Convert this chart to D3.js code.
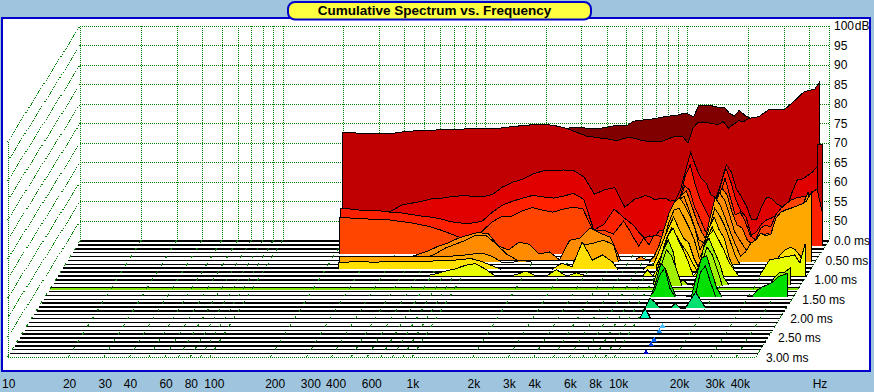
<!DOCTYPE html>
<html><head><meta charset="utf-8"><script src="https://cdn.jsdelivr.net/npm/d3@7"></script>
<style>html,body{margin:0;padding:0;background:#9FC5DE;overflow:hidden}text{font-family:"Liberation Sans",Arial,sans-serif;fill:#000}</style></head><body>
<svg id="c" width="874" height="392"></svg>
<script>
const titleText = "Cumulative Spectrum vs. Frequency";
const dbTicks = [50,55,60,65,70,75,80,85,90,95,100];
const msTicks = [0,0.5,1,1.5,2,2.5,3];
const msLabels = ["0.0 ms","0.50 ms","1.00 ms","1.50 ms","2.00 ms","2.50 ms","3.00 ms"];
const hzTicks = [10,20,30,40,60,80,100,200,300,400,600,1000,2000,3000,4000,6000,8000,10000,20000,30000,40000];
const hzLabels = ["10","20","30","40","60","80","100","200","300","400","600","1k","2k","3k","4k","6k","8k","10k","20k","30k","40k"];
const hzGrid = [10,20,30,40,50,60,70,80,90,100,200,300,400,500,600,700,800,900,1000,2000,3000,4000,5000,6000,7000,8000,9000,10000,20000,30000,40000,50000];
const floorTimes = [0,.1,.2,.3,.4,.5,.6,.7,.8,.9,1,1.1,1.2,1.3,1.4,1.5,1.6,1.7,1.8,1.9,2,2.1,2.2,2.3,2.4,2.5,2.6,2.7,2.8,2.9];
const limeTime = 1.25;
const freqs = [200,224,252,283,317,356,400,449,504,566,635,713,800,898,1008,1131,1270,1425,1600,1796,2016,2263,2540,2851,3200,3592,4032,4525,5080,5382,5702,6041,6400,6781,7184,7611,8063,8543,9051,9589,10159,10763,11404,12082,12800,13561,14368,15222,16127,17086,18102,19178,20319,21527,22807,24163,25600,27122,28735,30444,32254,34172,36204,38356,40637,43053,45614,48327];

const dbA = [73,73.5,73.7,74,73.7,73.5,74,74.5,74.5,75.4,75.7,75.8,75.9,76.1,76.3,76.6,76.8,76.9,77.1,77.5,77.3,76.6,79.6,79.6,79.6,79.3,79,79.1,77.6,76.8,78.3,77.1,76.3,76,75.5];
const dbB = [72.8,72.8,72.7,72.7,72.7,72.7,73.1,73.3,73.4,73.5,73.7,73.7,73.8,73.8,73.8,73.8,74.2,74.5,74.7,75,75,74.6,74,73,72,71.6,71.3,70.8,71.6,71.6,71.2,70.8,70.7,70.5,70.5,70.7,71.2,71.7,72,71.8,70.2,74,75.5,75.6,75.4,75.1,75,75.7,74,75,75.9,75.7,76.5,76.8,76.9,77.9,78.8,78.9,78.9,78.7,79.9,81,82.3,83.4,83.7,84,85.9];
const dbB2 = [70.6,70.6];
const dbC = [52.7,52.7,52.8,53,53.2,53.7,55.2,55.7,56.2,56.8,57,57.4,57.6,57.5,57.3,58,59.9,61.1,61.9,63.2,64,64.1,64.2,64,62.4,58,59.1,59.7,54.7,55.7,56.8,57.1,57.7,57.3,56.5,57,57,56.2,56.5,59.1,64.2,68.8,65,62.1,60.9,57.8,57,61.1,65.5,63.7,59.3,57.3,54.9,51.4,51.6,54.9,57.3,56.8,55.5,54.7,54.7,58.6,61.7,61.9,62.7,63.7,65.2];
const dbD = [54.6,54.4,54.1,53.9,53.9,53.6,53.4,53,52.6,52.3,51.8,51.1,50.8,50.8,51.3,53.6,55.4,56.4,57.2,57.9,57.5,57.2,57.7,58.4,56.9,49,50.5,54.4,52.1,51.1,50,48.2,47,47.5,47.2,49,48.8,50,52.1,57.2,62.8,65.7,60.5,56.7,54.1,51.6,55.9,60.5,64.9,61.3,56.7,53.9,52.3,47.7,48.5,50.5,51.6,52.1,52.9,53.6,54.6,56.2,56.9,57.2,57.5,58.7,59.5,53.6];
const dbE = [52.6,52.4,52.3,52.1,52,51.9,51.5,51.2,50.7,50.1,49.3,48.3,47.3,48,48.8,51.3,52.8,52.9,54.2,55.1,54.4,53.9,54.6,55.2,54.7,49.1,49.3,48.3,51.6,49.6,47.3,45.2,47.3,45.5,48,47.8,47.3,47.8,50.3,56,60.6,59.6,55.2,52.4,49.3,47.8,51.4,58.3,62.6,57.8,53.2,53.9,51.4,47.8,46.8,49.8,50.6,50.1,53.2,54.9,56,57,57.5,57.8,57.8,58];
const dbF = [43.4,44.3,45.2,46.4,47.3,48.5,49.3,50,49.6,46.5,45.5,47.5,47,44.5,45,42.4,48,48.5,51.1,49.8,48.8,42.4,42.4,42.4,42.4,43.9,42.4,42.4,44.2,46,48,51.1,55.2,59.6,60.6,57,53.2,50.1,48,52.6,58.3,61.4,59.6,55.2,51.9,51.1,48,47,47.3,49.1,49.8,48.8,51.9,55.5,56,56.2,56.7,57.3,60.3];
const dbF2 = [44.4,45.5,47,48,49,50.3,50.2,48,45.5,43.4,43.4,43.4,43.4,43.4,43.4,43.4,43.4,43.4,43.4,43.4,43.4,43.4,43.4,43.4,43.4,43.4,43.4,45.2,47,50.3,54.7,59.3,60.3,56.7,52.9,49,48.3,52.1,58,61.1,59.3,55.4,51.1,49,47,44.4];
const dbG = [46.7,46.6,46.6,46.6,46.6,46.6,46.6,46.7,46.7,46.7,46.7,46.7,46.9,47.2,47.5,46.7,44.7,44.7,45.7,44.7,44.7,44.7,44.7,44.7,49.6,50,50.8,49.6,44.7,44.7,44.7,44.7,44.7,44.7,44.7,46.7,49.6,53.9,58,60.6,61.6,59.8,57.2,53.9,48.3,50.8,56.5,61.6,59.8,56.5,52.9,49.6,46.7,47.8,50,50.8,52.6,51.9,52.4,56.5,58,58.5,59,59.5,60,60.8,63.1];
const dbG3 = [43.7,51,55.6,58.7,59.2,56.7,54.1,51,46.4,49,54.1,59.2,57.2,54.6,51,47.2,43.7];
const dbH = [45.6,45.6,45.7,45.6,45.6,45.8,45.8,45.8,45.8,45.8,46,46,46.2,46.5,45.8,44.8,43,43,43,43,43,43,45.3,44.4,50.7,46.1,47.4,45.6,43,43,43,43,43,43,44.8,44.8,47.9,51.2,54.3,57.1,54.3,51.7,50.5,46.6,44,49.9,54.3,57.1,53.8,51.7,46.6,43.5,43,43,43,43,43,43,43,45.6,47.4,48.7,49.4,48.7,47.1,43];
const dbH2 = [45.4,48.2,52.5,55.1,53.1,50.8,49,46.4,43.8,47.9,52.5,55.4,52,50,46.4,43.8];
const dbI = [44.1,44.1,44.1,44.8,45.5,46.1,47,47.5,46.1,44.1,44.1,44.6,45.6,44.2,44.1,45.9,44.1,45.1,44.1,44.1,44.1,44.1,44.1,44.1,44.1,44.1,44.1,44.1,45.9,44.1,46.4,50.5,54.6,56.6,53.5,51,47.9,44.1,45.9,51,54.6,56.1,53.5,51,47.9,45.9,44.1,44.1,44.1,44.1,44.1,46.4,48.4,48.7,48.9,49.2,49.4,49.7,47.6,52.5];
const dbJ = [43.7,48.3,52.9,55.5,52.4,44.5,45.2,43.7,43.7,47.8,53.7,56,52.9,49.9,45.8,43.7,43.7,43.7,43.7,43.7,43.7,43.7,43.7,43.7,46,47.3,47.3,48.3];
const dbJ2 = [44.7,49.8,53.7,52.1,48.6,44.2,44.2,44.2,46,50.6,54.4,52.4,48.6,44.2];
const dbK = [43.6,47.7,52.6,50.8,47,44,43.6,43.6,44.1,49.3,53.9,54.4,50.3,46.2,43.9,43.6,43.6,43.6,43.9,43.9,44.1,45.7,46.5,47,47.7,49,49.5,50];
const dbK2 = [44.1,46.1,50,51.8,46.6,44.1,44.1,44.1,44.1,44.6,50.7,52.3,48.2,44.1];
const dbL = [43.3,46.1,45.1,43.5,42.6,42.6,44.8,42.6,43.3,45.6,47.6,45.6,42.6];
const dbM = [45,47.5,45];
const blipFreqs = [13700,14050,14400];
const blipDb = [45,45.9,45];
const blipTimes = [2.25,2.38,2.6,2.72,2.93];
const blipColors = ["#40C0FF","#2090FF","#0060FF","#0040E0","#0000C0"];

const slices = [
 {c:"#800000",t:0,   base:0,   s:20,v:dbA},
 {c:"#C00000",t:.03, base:.03, s:0, v:dbB},
 {c:"#C00000",t:.12, base:.12, s:66,v:dbB2},
 {c:"#E00000",t:.12, base:.12, s:0, v:dbC},
 {c:"#FF2000",t:.14, base:.14, s:0, v:dbD},
 {c:"#FF4500",t:.17, base:.36, s:0, v:dbE},
 {c:"#FF8C00",t:.3,  base:.5,  s:7, v:dbF},
 {c:"#FF8C00",t:.4,  base:.5,  s:9, v:dbF2},
 {c:"#FFA800",t:.58, base:.57, s:1, v:dbG},
 {c:"#FFA800",t:.6,  base:.62, s:37,v:dbG3},
 {c:"#FFE000",t:.62, base:.75, s:1, v:dbH},
 {c:"#FFE000",t:.7,  base:.78, s:37,v:dbH2},
 {c:"#E8FF00",t:.85, base:.92, s:8, v:dbI},
 {c:"#A0F000",t:1.05,base:1.15,s:38,v:dbJ},
 {c:"#A0F000",t:1.12,base:1.17,s:39,v:dbJ2},
 {c:"#00E000",t:1.35,base:1.45,s:39,v:dbK},
 {c:"#00E000",t:1.4, base:1.45,s:39,v:dbK2},
 {c:"#00E070",t:1.6, base:1.75,s:39,v:dbL},
 {c:"#00FFC0",t:2,   base:2,   s:40,v:dbM}
];

const svg = d3.select("#c");
const xs = d3.scaleLog().domain([10,50000]).range([80.3,828.6]);
const ys = d3.scaleLinear().domain([45,100]).range([240.3,25.5]);
const sx = d3.scaleLinear().domain([0,3]).range([0,-72.7]);
const sy = d3.scaleLinear().domain([0,3]).range([0,116.4]);
const GREEN = "#008000", BLUE = "#0000C8";
const snap = v => Math.round(v)+.5;

svg.append("rect").attr("width",874).attr("height",392).attr("fill","#9FC5DE");
svg.append("rect").attr("x",2).attr("y",18).attr("width",868).attr("height",352.5).attr("fill","#fff").attr("stroke",BLUE).attr("stroke-width",2).attr("shape-rendering","crispEdges");

const grid = svg.append("g").attr("shape-rendering","crispEdges").attr("fill","none");
const dotted = "1 1";
grid.selectAll(".h").data(d3.range(50,101,5)).join("line").attr("x1",xs(10)).attr("x2",xs(50000)).attr("y1",d=>snap(ys(d))).attr("y2",d=>snap(ys(d))).attr("stroke",GREEN).attr("stroke-dasharray",dotted);
grid.selectAll(".v").data(hzGrid).join("line").attr("x1",d=>snap(xs(d))).attr("x2",d=>snap(xs(d))).attr("y1",ys(100)).attr("y2",ys(45)).attr("stroke",GREEN).attr("stroke-dasharray",dotted);
grid.selectAll(".w").data(d3.range(50,101,5)).join("line").attr("x1",xs(10)).attr("x2",xs(10)+sx(3)).attr("y1",d=>ys(d)).attr("y2",d=>ys(d)+sy(3)).attr("stroke",GREEN).attr("stroke-dasharray",dotted);
grid.append("line").attr("x1",snap(xs(10)+sx(3))).attr("x2",snap(xs(10)+sx(3))).attr("y1",ys(100)+sy(3)).attr("y2",ys(45)+sy(3)).attr("stroke",GREEN).attr("stroke-dasharray",dotted);
grid.append("line").attr("x1",xs(10)+sx(3)).attr("x2",xs(50000)+sx(3)).attr("y1",snap(ys(45)+sy(3))).attr("y2",snap(ys(45)+sy(3))).attr("stroke",GREEN).attr("stroke-dasharray",dotted);
grid.append("line").attr("x1",xs(50000)).attr("x2",xs(50000)+sx(3)).attr("y1",ys(45)).attr("y2",ys(45)+sy(3)).attr("stroke",GREEN).attr("stroke-dasharray",dotted);

const flr = svg.append("g").attr("shape-rendering","crispEdges");
flr.selectAll("rect").data(floorTimes).join("rect")
  .attr("x",t=>xs(10)+sx(t)).attr("width",xs(50000)-xs(10))
  .attr("y",t=>Math.round(ys(45)+sy(t)))
  .attr("height",t=>Math.round(ys(45)+sy(t)+1.45)-Math.round(ys(45)+sy(t)))
  .attr("fill","#000");
svg.append("rect").attr("shape-rendering","crispEdges").attr("x",xs(10)+sx(limeTime)).attr("width",xs(50000)-xs(10)).attr("y",Math.round(ys(45)+sy(limeTime))-1).attr("height",2).attr("fill","#80E000");
svg.append("g").attr("shape-rendering","crispEdges").selectAll("line").data(hzGrid.slice(0,-1)).join("line")
  .attr("x1",d=>xs(d)).attr("y1",ys(45)).attr("x2",d=>xs(d)+sx(3)).attr("y2",ys(45)+sy(3)).attr("stroke",GREEN).attr("stroke-dasharray","3 6");

const marks = svg.append("g").attr("shape-rendering","crispEdges");
function drawSlice(c,t,base,fr,vals){
  const b = ys(45)+sy(base);
  const pts = vals.map((v,i)=>({x:xs(fr[i])+sx(t), y:Math.min(ys(v)+sy(t),b)}));
  const full = [{x:pts[0].x,y:b},...pts,{x:pts[pts.length-1].x,y:b}];
  const area = d3.area().x(d=>d.x).y0(b).y1(d=>d.y);
  const line = d3.line().x(d=>d.x).y(d=>d.y).defined((d,i,a)=> d.y<b || (i>0&&a[i-1].y<b) || (i<a.length-1&&a[i+1].y<b));
  marks.append("path").attr("d",area(full)).attr("fill",c);
  marks.append("path").attr("d",line(full)).attr("fill","none").attr("stroke","#000");
}
slices.forEach(s=>drawSlice(s.c,s.t,s.base,freqs.slice(s.s,s.s+s.v.length),s.v));
blipTimes.forEach((t,i)=>{
  const pts = blipFreqs.map((f,j)=>[xs(f)+sx(t), ys(blipDb[j])+sy(t)]);
  marks.append("path").attr("d",d3.line()(pts)+"Z").attr("fill",blipColors[i]).attr("stroke",blipColors[i]);
});

const lab = svg.append("g").attr("font-size",12);
lab.selectAll(".db").data(dbTicks).join("text").attr("x",834).attr("y",d=>ys(d)+4.5).attr("word-spacing",-2.5).text(d=>d===100?"100 dB":d);
lab.selectAll(".ms").data(msTicks).join("text").attr("x",d=>xs(50000)+sx(d)+(d===0?5.4:d===.5?9:10)).attr("y",d=>ys(45)+sy(d)+5).text((d,i)=>msLabels[i]);
lab.selectAll(".hz").data(hzTicks).join("text").attr("x",d=>xs(d)-78.3).attr("y",388).text((d,i)=>hzLabels[i]);
lab.append("text").attr("text-anchor","middle").attr("x",820).attr("y",388).text("Hz");

svg.append("rect").attr("x",288).attr("y",2).attr("width",303).attr("height",17.5).attr("rx",7).attr("fill","#FFFF40").attr("stroke",BLUE).attr("stroke-width",2);
svg.append("text").attr("x",434.5).attr("y",15).attr("text-anchor","middle").attr("font-weight","bold").attr("font-size",13.5).text(titleText);
</script></body></html>
